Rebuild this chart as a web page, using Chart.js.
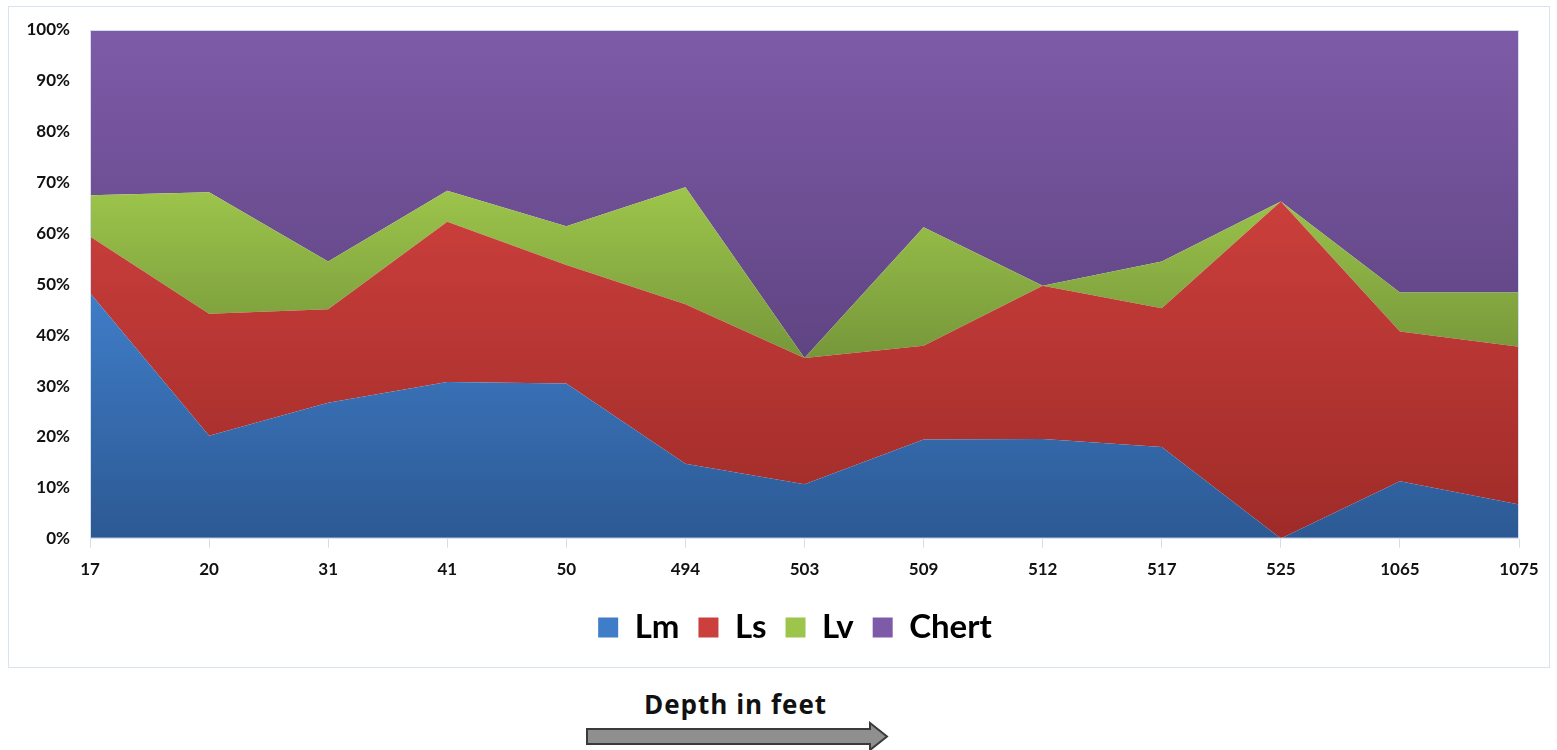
<!DOCTYPE html>
<html>
<head>
<meta charset="utf-8">
<script src="https://cdn.jsdelivr.net/npm/chart.js@4.4.1/dist/chart.umd.min.js"></script>
<style>
  html, body { margin: 0; padding: 0; background: #fff; }
  body { width: 1557px; height: 750px; position: relative; overflow: hidden; font-family: Lato, 'Open Sans', sans-serif; }
  #box { position: absolute; left: 8px; top: 6px; width: 1542px; height: 662px; border: 1px solid #d9e3f0; box-sizing: border-box; }
  #area-chart { display: block; }
  #depth { position: absolute; left: 644px; top: 686px; font-family: 'Open Sans', sans-serif; font-weight: bold; font-size: 26px; letter-spacing: 1px; color: #111; white-space: nowrap; }
  #arrow { position: absolute; left: 585px; top: 721px; }
</style>
</head>
<body>
<div id="box"><canvas id="area-chart" width="1540" height="660"></canvas></div>
<div id="depth">Depth in feet</div>
<svg id="arrow" width="306" height="32" viewBox="0 0 306 32">
  <polygon points="2,8 285,8 285,2 302,15.5 285,29 285,23 2,23" fill="#8f8f8f" stroke="#3a3a3a" stroke-width="2"/>
</svg>

<script>
// depth samples (feet) and share of each rock type, in percent
const depths = ['17', '20', '31', '41', '50', '494', '503', '509', '512', '517', '525', '1065', '1075']
const lm = [48.3, 20.2, 26.7, 30.8, 30.5, 14.7, 10.7, 19.5, 19.6, 18.0, 0, 11.3, 6.7]
const ls = [11.1, 24.0, 18.4, 31.5, 23.3, 31.4, 24.8, 18.4, 30.1, 27.3, 66.3, 29.4, 31.0]
const lv = [8.1, 23.9, 9.4, 6.1, 7.6, 23.0, 0, 23.3, 0, 9.2, 0, 7.7, 10.7]
const chert = [32.5, 31.9, 45.5, 31.6, 38.6, 30.9, 64.5, 38.8, 50.3, 45.5, 33.7, 51.6, 51.6]
const yTicks = [0, 10, 20, 30, 40, 50, 60, 70, 80, 90, 100]

const series = [
  { label: 'Lm', data: lm, light: '#3f7dc8', dark: '#2c5993' },
  { label: 'Ls', data: ls, light: '#cb3f3c', dark: '#9e2b28' },
  { label: 'Lv', data: lv, light: '#9dc54b', dark: '#76973a' },
  { label: 'Chert', data: chert, light: '#7e5ba8', dark: '#5f4482' }
]

// running totals so each band's gradient spans its own height
const lower = []
let running = depths.map(() => 0)
series.forEach((s, i) => {
  lower[i] = running.slice()
  running = running.map((v, j) => v + s.data[j])
})

function bandFill (i) {
  return (context) => {
    const { chart } = context
    const area = chart.chartArea
    const s = series[i]
    if (!area) return s.light
    const y = chart.scales.y
    const tops = lower[i].map((v, j) => v + s.data[j])
    const yTop = y.getPixelForValue(Math.max(...tops))
    const yBottom = y.getPixelForValue(Math.min(...lower[i]))
    const g = chart.ctx.createLinearGradient(0, yTop, 0, Math.max(yBottom, yTop + 1))
    g.addColorStop(0, s.light)
    g.addColorStop(1, s.dark)
    return g
  }
}

const plotBorder = {
  id: 'plotBorder',
  afterDatasetsDraw (chart) {
    const { ctx, chartArea: a } = chart
    ctx.save()
    ctx.strokeStyle = '#d3deed'
    ctx.lineWidth = 1
    ctx.strokeRect(a.left + 0.5, a.top + 0.5, a.right - a.left - 1, a.bottom - a.top - 1)
    ctx.restore()
  }
}

// nudge the legend row to the right of the canvas centre
const legendShift = {
  id: 'legendShift',
  afterLayout (chart) {
    chart.legend.left += 31
    chart.legend.right += 31
  }
}

Chart.defaults.font.family = 'Lato, "Open Sans", sans-serif'
Chart.defaults.color = '#111'

// eslint-disable-next-line no-unused-vars, no-undef
const chart = new Chart(document.querySelector('#area-chart'), {
  type: 'line',
  data: {
    labels: depths,
    datasets: series.map((s, i) => ({
      label: s.label,
      data: s.data,
      fill: i === 0 ? 'origin' : '-1',
      backgroundColor: bandFill(i),
      borderColor: s.light,
      borderWidth: 0,
      pointRadius: 0,
      tension: 0
    }))
  },
  options: {
    responsive: false,
    animation: false,
    events: [],
    layout: { padding: { top: 23, right: 30, bottom: 13, left: 0 } },
    scales: {
      x: {
        offset: false,
        afterFit: (scale) => {
          scale.paddingLeft = 0
          scale.paddingRight = 0
        },
        grid: { display: true, drawOnChartArea: false, tickLength: 9, color: '#d3deed' },
        border: { display: false },
        ticks: { padding: 12, maxRotation: 0, autoSkip: false, font: { size: 17, weight: 'bold' } }
      },
      y: {
        stacked: true,
        min: 0,
        max: 100,
        afterBuildTicks: (scale) => { scale.ticks = yTicks.map(v => ({ value: v })) },
        afterFit: (scale) => {
          scale.width = 81
          scale.paddingTop = 0
          scale.paddingBottom = 0
        },
        grid: { display: false, drawTicks: false },
        border: { display: false },
        ticks: { padding: 20, callback: (v) => v + '%', font: { size: 17, weight: 'bold' } }
      }
    },
    plugins: {
      legend: {
        position: 'bottom',
        labels: {
          boxWidth: 20,
          boxHeight: 20,
          padding: 19,
          font: { size: 33, weight: 'bold' },
          color: '#111',
          generateLabels: () => series.map((s, i) => ({
            text: s.label,
            fillStyle: s.light,
            strokeStyle: s.dark,
            lineWidth: 0,
            datasetIndex: i
          }))
        }
      },
      tooltip: { enabled: false }
    }
  },
  plugins: [plotBorder, legendShift]
})
</script>
</body>
</html>
